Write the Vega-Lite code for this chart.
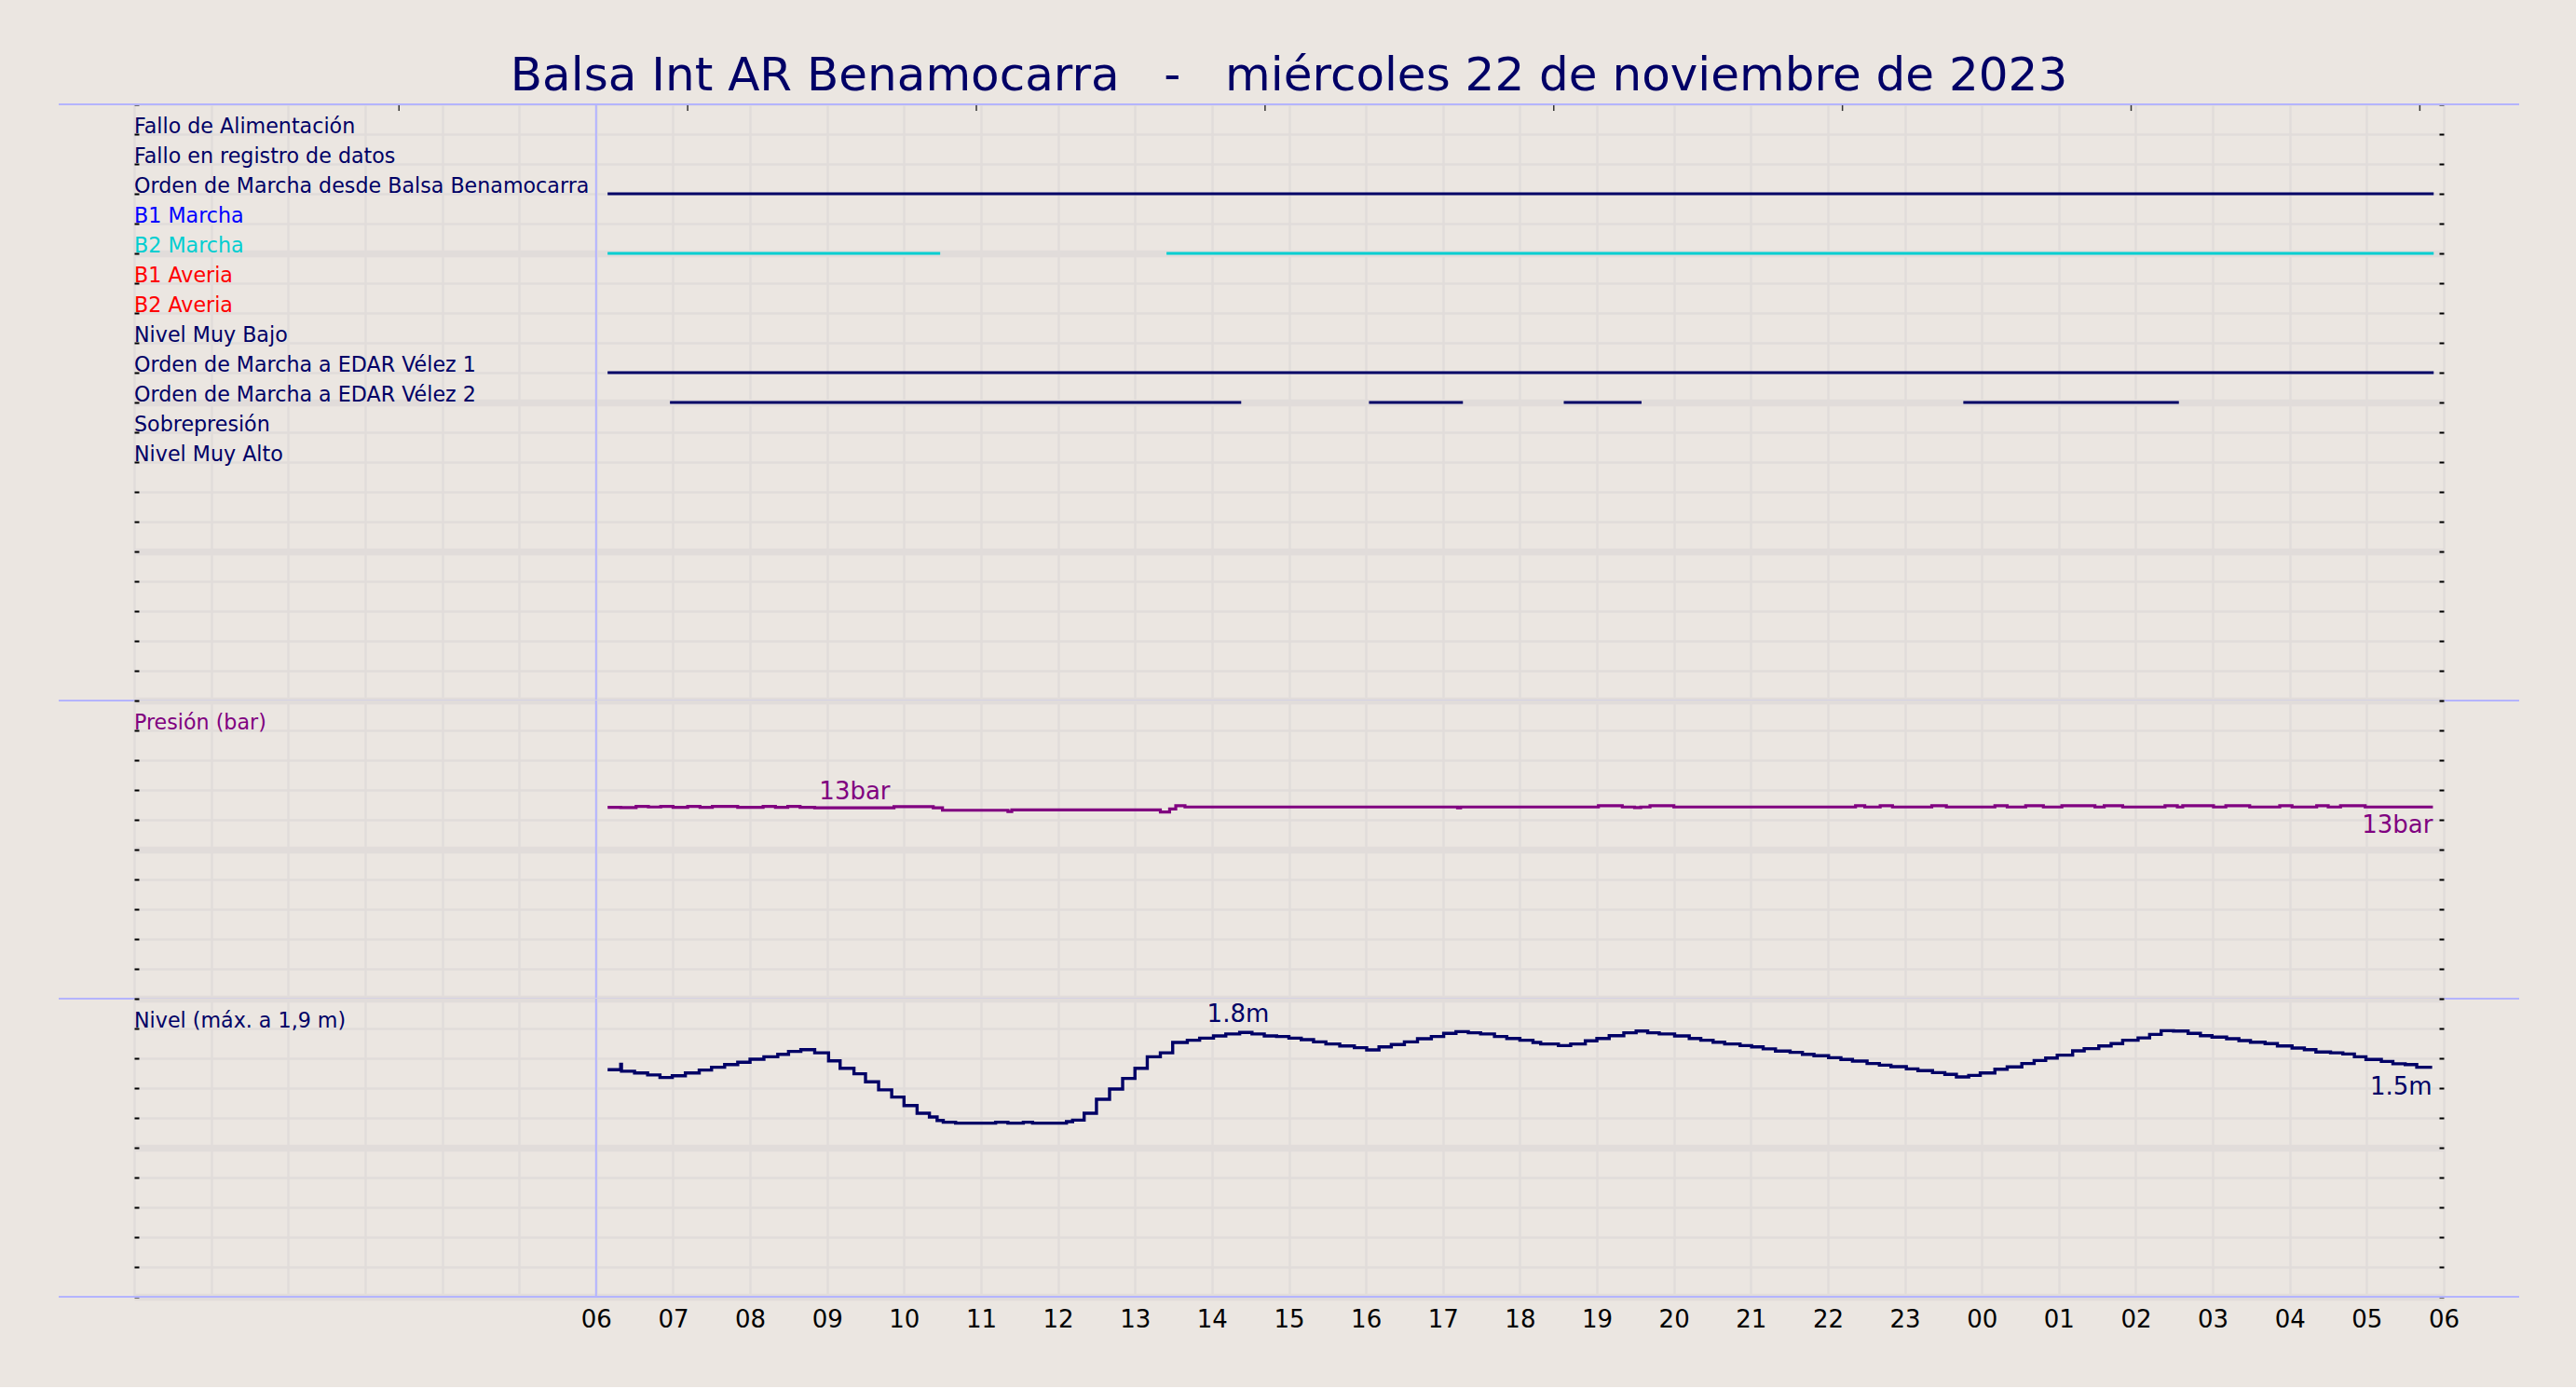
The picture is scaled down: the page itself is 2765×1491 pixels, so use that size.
{
  "$schema": "https://vega.github.io/schema/vega-lite/v6.json",
  "background": "#ebe6e1",
  "padding": {"left": 62, "right": 62, "top": 57, "bottom": 60},
  "title": {
    "text": "Balsa Int AR Benamocarra\u00a0\u00a0\u00a0-\u00a0\u00a0\u00a0miércoles 22 de noviembre de 2023",
    "font": "DejaVu Sans",
    "fontSize": 50,
    "fontWeight": "normal",
    "color": "#000066",
    "anchor": "middle",
    "offset": 4
  },
  "spacing": 0,
  "bounds": "flush",
  "datasets": {
    "senales": [
      {"fila": 1, "nombre": "Fallo de Alimentación"},
      {"fila": 2, "nombre": "Fallo en registro de datos"},
      {"fila": 3, "nombre": "Orden de Marcha desde Balsa Benamocarra"},
      {"fila": 4, "nombre": "B1 Marcha"},
      {"fila": 5, "nombre": "B2 Marcha"},
      {"fila": 6, "nombre": "B1 Averia"},
      {"fila": 7, "nombre": "B2 Averia"},
      {"fila": 8, "nombre": "Nivel Muy Bajo"},
      {"fila": 9, "nombre": "Orden de Marcha a EDAR Vélez 1"},
      {"fila": 10, "nombre": "Orden de Marcha a EDAR Vélez 2"},
      {"fila": 11, "nombre": "Sobrepresión"},
      {"fila": 12, "nombre": "Nivel Muy Alto"}
    ],
    "tramos": [
      {"fila": 3, "nombre": "Orden de Marcha desde Balsa Benamocarra", "inicio": 6.15, "fin": 29.87},
      {"fila": 5, "nombre": "B2 Marcha", "inicio": 6.15, "fin": 10.47},
      {"fila": 5, "nombre": "B2 Marcha", "inicio": 13.41, "fin": 29.87},
      {"fila": 9, "nombre": "Orden de Marcha a EDAR Vélez 1", "inicio": 6.15, "fin": 29.87},
      {"fila": 10, "nombre": "Orden de Marcha a EDAR Vélez 2", "inicio": 6.96, "fin": 14.38},
      {"fila": 10, "nombre": "Orden de Marcha a EDAR Vélez 2", "inicio": 16.04, "fin": 17.26},
      {"fila": 10, "nombre": "Orden de Marcha a EDAR Vélez 2", "inicio": 18.57, "fin": 19.58},
      {"fila": 10, "nombre": "Orden de Marcha a EDAR Vélez 2", "inicio": 23.76, "fin": 26.56}
    ],
    "marcas": [
      {"hora": 3.44}, {"hora": 7.19}, {"hora": 10.94}, {"hora": 14.69},
      {"hora": 18.44}, {"hora": 22.19}, {"hora": 25.94}, {"hora": 29.69}
    ],
    "presion": [
      {"hora": 6.15, "valor": 12.84}, {"hora": 6.32, "valor": 12.82}, {"hora": 6.52, "valor": 12.9},
      {"hora": 6.68, "valor": 12.86}, {"hora": 6.84, "valor": 12.9}, {"hora": 7.0, "valor": 12.84},
      {"hora": 7.19, "valor": 12.9}, {"hora": 7.35, "valor": 12.84}, {"hora": 7.51, "valor": 12.9},
      {"hora": 7.84, "valor": 12.84}, {"hora": 8.17, "valor": 12.9}, {"hora": 8.33, "valor": 12.84},
      {"hora": 8.49, "valor": 12.9}, {"hora": 8.65, "valor": 12.84}, {"hora": 8.84, "valor": 12.8},
      {"hora": 9.87, "valor": 12.88}, {"hora": 10.38, "valor": 12.8}, {"hora": 10.5, "valor": 12.64},
      {"hora": 11.35, "valor": 12.56}, {"hora": 11.4, "valor": 12.66}, {"hora": 13.33, "valor": 12.52},
      {"hora": 13.45, "valor": 12.73}, {"hora": 13.53, "valor": 12.94}, {"hora": 13.65, "valor": 12.86},
      {"hora": 17.19, "valor": 12.8}, {"hora": 17.23, "valor": 12.86}, {"hora": 19.02, "valor": 12.94},
      {"hora": 19.33, "valor": 12.86}, {"hora": 19.49, "valor": 12.82}, {"hora": 19.57, "valor": 12.86},
      {"hora": 19.69, "valor": 12.94}, {"hora": 20.0, "valor": 12.86}, {"hora": 22.36, "valor": 12.94},
      {"hora": 22.48, "valor": 12.86}, {"hora": 22.68, "valor": 12.94}, {"hora": 22.84, "valor": 12.86},
      {"hora": 23.35, "valor": 12.94}, {"hora": 23.54, "valor": 12.86}, {"hora": 24.17, "valor": 12.94},
      {"hora": 24.33, "valor": 12.86}, {"hora": 24.57, "valor": 12.94}, {"hora": 24.8, "valor": 12.86},
      {"hora": 25.04, "valor": 12.94}, {"hora": 25.47, "valor": 12.86}, {"hora": 25.59, "valor": 12.94},
      {"hora": 25.83, "valor": 12.86}, {"hora": 26.38, "valor": 12.94}, {"hora": 26.54, "valor": 12.86},
      {"hora": 26.61, "valor": 12.94}, {"hora": 27.01, "valor": 12.86}, {"hora": 27.17, "valor": 12.94},
      {"hora": 27.48, "valor": 12.86}, {"hora": 27.87, "valor": 12.94}, {"hora": 28.03, "valor": 12.86},
      {"hora": 28.35, "valor": 12.94}, {"hora": 28.5, "valor": 12.86}, {"hora": 28.66, "valor": 12.94},
      {"hora": 28.98, "valor": 12.86}, {"hora": 29.86, "valor": 12.86}
    ],
    "nivel": [
      {"hora": 6.15, "valor": 1.523}, {"hora": 6.32, "valor": 1.56}, {"hora": 6.33, "valor": 1.513},
      {"hora": 6.5, "valor": 1.502}, {"hora": 6.67, "valor": 1.488}, {"hora": 6.83, "valor": 1.471},
      {"hora": 6.99, "valor": 1.483}, {"hora": 7.16, "valor": 1.502}, {"hora": 7.34, "valor": 1.521},
      {"hora": 7.5, "valor": 1.54}, {"hora": 7.67, "valor": 1.558}, {"hora": 7.84, "valor": 1.573},
      {"hora": 8.0, "valor": 1.594}, {"hora": 8.18, "valor": 1.61}, {"hora": 8.36, "valor": 1.627},
      {"hora": 8.5, "valor": 1.646}, {"hora": 8.66, "valor": 1.658}, {"hora": 8.84, "valor": 1.637},
      {"hora": 9.02, "valor": 1.583}, {"hora": 9.17, "valor": 1.533}, {"hora": 9.35, "valor": 1.496},
      {"hora": 9.5, "valor": 1.442}, {"hora": 9.67, "valor": 1.388}, {"hora": 9.84, "valor": 1.34},
      {"hora": 10.0, "valor": 1.283}, {"hora": 10.17, "valor": 1.231}, {"hora": 10.33, "valor": 1.206},
      {"hora": 10.43, "valor": 1.183}, {"hora": 10.51, "valor": 1.171}, {"hora": 10.67, "valor": 1.165},
      {"hora": 11.19, "valor": 1.171}, {"hora": 11.35, "valor": 1.165}, {"hora": 11.55, "valor": 1.171},
      {"hora": 11.67, "valor": 1.165}, {"hora": 12.11, "valor": 1.175}, {"hora": 12.19, "valor": 1.185},
      {"hora": 12.34, "valor": 1.231}, {"hora": 12.5, "valor": 1.325}, {"hora": 12.67, "valor": 1.394},
      {"hora": 12.84, "valor": 1.465}, {"hora": 13.0, "valor": 1.533}, {"hora": 13.16, "valor": 1.61},
      {"hora": 13.33, "valor": 1.637}, {"hora": 13.49, "valor": 1.706}, {"hora": 13.68, "valor": 1.721},
      {"hora": 13.84, "valor": 1.735}, {"hora": 14.02, "valor": 1.75}, {"hora": 14.18, "valor": 1.763},
      {"hora": 14.36, "valor": 1.773}, {"hora": 14.52, "valor": 1.763}, {"hora": 14.68, "valor": 1.75},
      {"hora": 14.84, "valor": 1.746}, {"hora": 15.0, "valor": 1.735}, {"hora": 15.16, "valor": 1.725},
      {"hora": 15.32, "valor": 1.71}, {"hora": 15.48, "valor": 1.696}, {"hora": 15.66, "valor": 1.683},
      {"hora": 15.85, "valor": 1.671}, {"hora": 16.01, "valor": 1.656}, {"hora": 16.17, "valor": 1.677},
      {"hora": 16.33, "valor": 1.692}, {"hora": 16.5, "valor": 1.71}, {"hora": 16.67, "valor": 1.731},
      {"hora": 16.85, "valor": 1.746}, {"hora": 17.01, "valor": 1.767}, {"hora": 17.17, "valor": 1.779},
      {"hora": 17.33, "valor": 1.771}, {"hora": 17.49, "valor": 1.763}, {"hora": 17.67, "valor": 1.746},
      {"hora": 17.83, "valor": 1.733}, {"hora": 18.0, "valor": 1.721}, {"hora": 18.17, "valor": 1.706},
      {"hora": 18.27, "valor": 1.696}, {"hora": 18.5, "valor": 1.685}, {"hora": 18.66, "valor": 1.696},
      {"hora": 18.85, "valor": 1.717}, {"hora": 19.0, "valor": 1.733}, {"hora": 19.16, "valor": 1.752},
      {"hora": 19.35, "valor": 1.771}, {"hora": 19.51, "valor": 1.783}, {"hora": 19.66, "valor": 1.771},
      {"hora": 19.81, "valor": 1.763}, {"hora": 20.01, "valor": 1.75}, {"hora": 20.2, "valor": 1.733},
      {"hora": 20.35, "valor": 1.721}, {"hora": 20.51, "valor": 1.708}, {"hora": 20.66, "valor": 1.696},
      {"hora": 20.86, "valor": 1.685}, {"hora": 21.01, "valor": 1.677}, {"hora": 21.16, "valor": 1.663},
      {"hora": 21.32, "valor": 1.648}, {"hora": 21.51, "valor": 1.64}, {"hora": 21.67, "valor": 1.627},
      {"hora": 21.82, "valor": 1.617}, {"hora": 22.01, "valor": 1.604}, {"hora": 22.17, "valor": 1.592},
      {"hora": 22.32, "valor": 1.581}, {"hora": 22.51, "valor": 1.565}, {"hora": 22.67, "valor": 1.554},
      {"hora": 22.82, "valor": 1.544}, {"hora": 23.02, "valor": 1.529}, {"hora": 23.17, "valor": 1.517},
      {"hora": 23.36, "valor": 1.504}, {"hora": 23.52, "valor": 1.492}, {"hora": 23.67, "valor": 1.475},
      {"hora": 23.83, "valor": 1.485}, {"hora": 23.98, "valor": 1.502}, {"hora": 24.17, "valor": 1.527},
      {"hora": 24.33, "valor": 1.542}, {"hora": 24.52, "valor": 1.565}, {"hora": 24.68, "valor": 1.585},
      {"hora": 24.83, "valor": 1.602}, {"hora": 24.98, "valor": 1.621}, {"hora": 25.18, "valor": 1.65},
      {"hora": 25.33, "valor": 1.665}, {"hora": 25.52, "valor": 1.683}, {"hora": 25.68, "valor": 1.698},
      {"hora": 25.83, "valor": 1.721}, {"hora": 26.03, "valor": 1.737}, {"hora": 26.18, "valor": 1.76},
      {"hora": 26.33, "valor": 1.785}, {"hora": 26.49, "valor": 1.783}, {"hora": 26.68, "valor": 1.767},
      {"hora": 26.84, "valor": 1.752}, {"hora": 26.99, "valor": 1.742}, {"hora": 27.18, "valor": 1.731},
      {"hora": 27.34, "valor": 1.719}, {"hora": 27.49, "valor": 1.708}, {"hora": 27.68, "valor": 1.698},
      {"hora": 27.84, "valor": 1.683}, {"hora": 28.03, "valor": 1.669}, {"hora": 28.19, "valor": 1.658},
      {"hora": 28.34, "valor": 1.642}, {"hora": 28.53, "valor": 1.637}, {"hora": 28.69, "valor": 1.629},
      {"hora": 28.84, "valor": 1.61}, {"hora": 28.99, "valor": 1.592}, {"hora": 29.19, "valor": 1.579},
      {"hora": 29.34, "valor": 1.563}, {"hora": 29.5, "valor": 1.558}, {"hora": 29.65, "valor": 1.54},
      {"hora": 29.85, "valor": 1.54}
    ]
  },
  "vconcat": [
    {
      "width": 2479,
      "height": 640,
      "resolve": {"axis": {"x": "independent", "y": "independent"}},
      "layer": [
        {
          "data": {"name": "senales"},
          "mark": {"type": "text", "align": "left", "baseline": "alphabetic", "dy": -1, "fontSize": 22.2},
          "encoding": {
            "x": {"datum": 0, "type": "quantitative", "scale": {"domain": [0, 30], "nice": false, "zero": false}, "axis": null},
            "y": {
              "field": "fila", "type": "quantitative",
              "scale": {"domain": [0, 20], "reverse": true, "nice": false, "zero": false},
              "axis": {
                "orient": "left",
                "values": [0, 1, 2, 3, 4, 5, 6, 7, 8, 9, 10, 11, 12, 13, 14, 15, 16, 17, 18, 19, 20],
                "grid": true,
                "gridWidth": {"condition": {"test": "datum.value % 5 == 0 && datum.value > 0", "value": 7.5}, "value": 2.5},
                "ticks": true, "tickSize": -5, "tickWidth": 2, "tickColor": "#000000",
                "labels": false, "domain": false, "title": null
              }
            },
            "text": {"field": "nombre"},
            "color": {
              "field": "nombre", "type": "nominal", "legend": null,
              "scale": {
                "domain": ["Fallo de Alimentación", "Fallo en registro de datos", "Orden de Marcha desde Balsa Benamocarra", "B1 Marcha", "B2 Marcha", "B1 Averia", "B2 Averia", "Nivel Muy Bajo", "Orden de Marcha a EDAR Vélez 1", "Orden de Marcha a EDAR Vélez 2", "Sobrepresión", "Nivel Muy Alto"],
                "range": ["#000066", "#000066", "#000066", "#0000ff", "#00ced1", "#ff0000", "#ff0000", "#000066", "#000066", "#000066", "#000066", "#000066"]
              }
            }
          }
        },
        {
          "data": {"name": "tramos"},
          "mark": {"type": "rule", "strokeWidth": 3.2, "strokeCap": "butt"},
          "encoding": {
            "x": {
              "field": "inicio", "type": "quantitative",
              "scale": {"domain": [0, 30], "nice": false, "zero": false},
              "axis": {
                "values": [0, 1, 2, 3, 4, 5, 6, 7, 8, 9, 10, 11, 12, 13, 14, 15, 16, 17, 18, 19, 20, 21, 22, 23, 24, 25, 26, 27, 28, 29, 30],
                "grid": true, "gridWidth": 2.5, "ticks": false, "labels": false, "domain": false, "title": null
              }
            },
            "x2": {"field": "fin"},
            "y": {
              "field": "fila", "type": "quantitative",
              "axis": {
                "orient": "right",
                "values": [0, 1, 2, 3, 4, 5, 6, 7, 8, 9, 10, 11, 12, 13, 14, 15, 16, 17, 18, 19, 20],
                "grid": false, "ticks": true, "tickSize": -5, "tickWidth": 2, "tickColor": "#000000",
                "labels": false, "domain": false, "title": null
              }
            },
            "color": {"field": "nombre", "type": "nominal", "legend": null}
          }
        },
        {
          "data": {"name": "marcas"},
          "mark": {"type": "rule", "strokeWidth": 1.5, "color": "#333333"},
          "encoding": {
            "x": {"field": "hora", "type": "quantitative", "axis": null},
            "y": {"datum": 0, "type": "quantitative", "axis": null},
            "y2": {"datum": 0.22}
          }
        },
        {
          "data": {"values": [{}]},
          "mark": {"type": "rule", "strokeWidth": 2, "color": "#b4b4ff"},
          "encoding": {
            "x": {"datum": -0.98, "type": "quantitative", "axis": null},
            "x2": {"datum": 30.98},
            "y": {"datum": 0, "type": "quantitative", "axis": null}
          }
        },
        {
          "data": {"values": [{}]},
          "mark": {"type": "rule", "strokeWidth": 2, "color": "#b4b4ff"},
          "encoding": {
            "x": {"datum": -0.98, "type": "quantitative", "axis": null},
            "x2": {"datum": 30.98},
            "y": {"datum": 20, "type": "quantitative", "axis": null}
          }
        },
        {
          "data": {"values": [{}]},
          "mark": {"type": "rule", "strokeWidth": 2, "color": "#b4b4ff"},
          "encoding": {
            "x": {"datum": 6, "type": "quantitative", "axis": null}
          }
        }
      ]
    },
    {
      "width": 2479,
      "height": 320,
      "resolve": {"axis": {"x": "independent", "y": "independent"}},
      "layer": [
        {
          "data": {"values": [{}]},
          "mark": {"type": "rule", "strokeWidth": 2, "color": "#b4b4ff"},
          "encoding": {
            "x": {"datum": 6, "type": "quantitative", "axis": null}
          }
        },
        {
          "data": {"name": "presion"},
          "mark": {"type": "line", "interpolate": "step-after", "color": "#800080", "strokeWidth": 3.2},
          "encoding": {
            "x": {
              "field": "hora", "type": "quantitative",
              "scale": {"domain": [0, 30], "nice": false, "zero": false},
              "axis": {
                "values": [0, 1, 2, 3, 4, 5, 6, 7, 8, 9, 10, 11, 12, 13, 14, 15, 16, 17, 18, 19, 20, 21, 22, 23, 24, 25, 26, 27, 28, 29, 30],
                "grid": true, "gridWidth": 2.5, "ticks": false, "labels": false, "domain": false, "title": null
              }
            },
            "y": {
              "field": "valor", "type": "quantitative",
              "scale": {"domain": [0, 20], "nice": false, "zero": false},
              "axis": {
                "orient": "left",
                "values": [0, 2, 4, 6, 8, 10, 12, 14, 16, 18, 20],
                "grid": true,
                "gridWidth": {"condition": {"test": "datum.value == 0 || datum.value == 10", "value": 7.5}, "value": 2.5},
                "ticks": true, "tickSize": -5, "tickWidth": 2, "tickColor": "#000000",
                "labels": false, "domain": false, "title": null
              }
            }
          }
        },
        {
          "data": {"values": [{"hora": 9.36, "valor": 12.94, "texto": "13bar"}]},
          "mark": {"type": "text", "align": "center", "baseline": "alphabetic", "dy": -7, "fontSize": 26, "color": "#800080"},
          "encoding": {
            "x": {"field": "hora", "type": "quantitative", "axis": null},
            "y": {
              "field": "valor", "type": "quantitative",
              "axis": {
                "orient": "right",
                "values": [0, 2, 4, 6, 8, 10, 12, 14, 16, 18, 20],
                "grid": false, "ticks": true, "tickSize": -5, "tickWidth": 2, "tickColor": "#000000",
                "labels": false, "domain": false, "title": null
              }
            },
            "text": {"field": "texto"}
          }
        },
        {
          "data": {"values": [{"hora": 29.86, "valor": 12.86, "texto": "13bar"}]},
          "mark": {"type": "text", "align": "right", "baseline": "alphabetic", "dy": 28, "fontSize": 26, "color": "#800080"},
          "encoding": {
            "x": {"field": "hora", "type": "quantitative", "axis": null},
            "y": {"field": "valor", "type": "quantitative", "axis": null},
            "text": {"field": "texto"}
          }
        },
        {
          "data": {"values": [{}]},
          "mark": {"type": "text", "align": "left", "baseline": "alphabetic", "dy": -1, "fontSize": 22.2, "color": "#800080", "text": "Presión (bar)"},
          "encoding": {
            "x": {"datum": 0, "type": "quantitative", "axis": null},
            "y": {"datum": 18, "type": "quantitative", "axis": null}
          }
        },
        {
          "data": {"values": [{}]},
          "mark": {"type": "rule", "strokeWidth": 2, "color": "#b4b4ff"},
          "encoding": {
            "x": {"datum": -0.98, "type": "quantitative", "axis": null},
            "x2": {"datum": 30.98},
            "y": {"datum": 0, "type": "quantitative", "axis": null}
          }
        }
      ]
    },
    {
      "width": 2479,
      "height": 320,
      "resolve": {"axis": {"x": "independent", "y": "independent"}},
      "layer": [
        {
          "data": {"values": [{}]},
          "mark": {"type": "rule", "strokeWidth": 2, "color": "#b4b4ff"},
          "encoding": {
            "x": {"datum": 6, "type": "quantitative", "axis": null}
          }
        },
        {
          "data": {"name": "nivel"},
          "mark": {"type": "line", "interpolate": "step-after", "color": "#000066", "strokeWidth": 3.4},
          "encoding": {
            "x": {
              "field": "hora", "type": "quantitative",
              "scale": {"domain": [0, 30], "nice": false, "zero": false},
              "axis": {
                "values": [0, 1, 2, 3, 4, 5, 6, 7, 8, 9, 10, 11, 12, 13, 14, 15, 16, 17, 18, 19, 20, 21, 22, 23, 24, 25, 26, 27, 28, 29, 30],
                "grid": true, "gridWidth": 2.5, "ticks": false, "domain": false, "title": null,
                "labels": true,
                "labelExpr": "datum.value < 6 ? '' : ((datum.value % 24 < 10 ? '0' : '') + (datum.value % 24))",
                "labelFont": "DejaVu Sans", "labelFontSize": 26, "labelColor": "#000000",
                "labelPadding": 11, "labelAngle": 0, "labelOverlap": false, "labelFlush": false
              }
            },
            "y": {
              "field": "valor", "type": "quantitative",
              "scale": {"domain": [0, 2], "nice": false, "zero": false},
              "axis": {
                "orient": "left",
                "values": [0, 0.2, 0.4, 0.6, 0.8, 1, 1.2, 1.4, 1.6, 1.8, 2],
                "grid": true,
                "gridWidth": {"condition": {"test": "datum.value == 0 || datum.value == 1", "value": 7.5}, "value": 2.5},
                "ticks": true, "tickSize": -5, "tickWidth": 2, "tickColor": "#000000",
                "labels": false, "domain": false, "title": null
              }
            }
          }
        },
        {
          "data": {"values": [{"hora": 14.34, "valor": 1.773, "texto": "1.8m"}]},
          "mark": {"type": "text", "align": "center", "baseline": "alphabetic", "dy": -11, "fontSize": 26, "color": "#000066"},
          "encoding": {
            "x": {"field": "hora", "type": "quantitative", "axis": null},
            "y": {
              "field": "valor", "type": "quantitative",
              "axis": {
                "orient": "right",
                "values": [0, 0.2, 0.4, 0.6, 0.8, 1, 1.2, 1.4, 1.6, 1.8, 2],
                "grid": false, "ticks": true, "tickSize": -5, "tickWidth": 2, "tickColor": "#000000",
                "labels": false, "domain": false, "title": null
              }
            },
            "text": {"field": "texto"}
          }
        },
        {
          "data": {"values": [{"hora": 29.85, "valor": 1.54, "texto": "1.5m"}]},
          "mark": {"type": "text", "align": "right", "baseline": "alphabetic", "dy": 29, "fontSize": 26, "color": "#000066"},
          "encoding": {
            "x": {"field": "hora", "type": "quantitative", "axis": null},
            "y": {"field": "valor", "type": "quantitative", "axis": null},
            "text": {"field": "texto"}
          }
        },
        {
          "data": {"values": [{}]},
          "mark": {"type": "text", "align": "left", "baseline": "alphabetic", "dy": -1, "fontSize": 22.2, "color": "#000066", "text": "Nivel (máx. a 1,9 m)"},
          "encoding": {
            "x": {"datum": 0, "type": "quantitative", "axis": null},
            "y": {"datum": 1.8, "type": "quantitative", "axis": null}
          }
        },
        {
          "data": {"values": [{}]},
          "mark": {"type": "rule", "strokeWidth": 2, "color": "#b4b4ff"},
          "encoding": {
            "x": {"datum": -0.98, "type": "quantitative", "axis": null},
            "x2": {"datum": 30.98},
            "y": {"datum": 0, "type": "quantitative", "axis": null}
          }
        }
      ]
    }
  ],
  "config": {
    "font": "DejaVu Sans",
    "view": {"stroke": null},
    "axis": {"gridColor": "#e1dcda", "gridOpacity": 1}
  }
}
